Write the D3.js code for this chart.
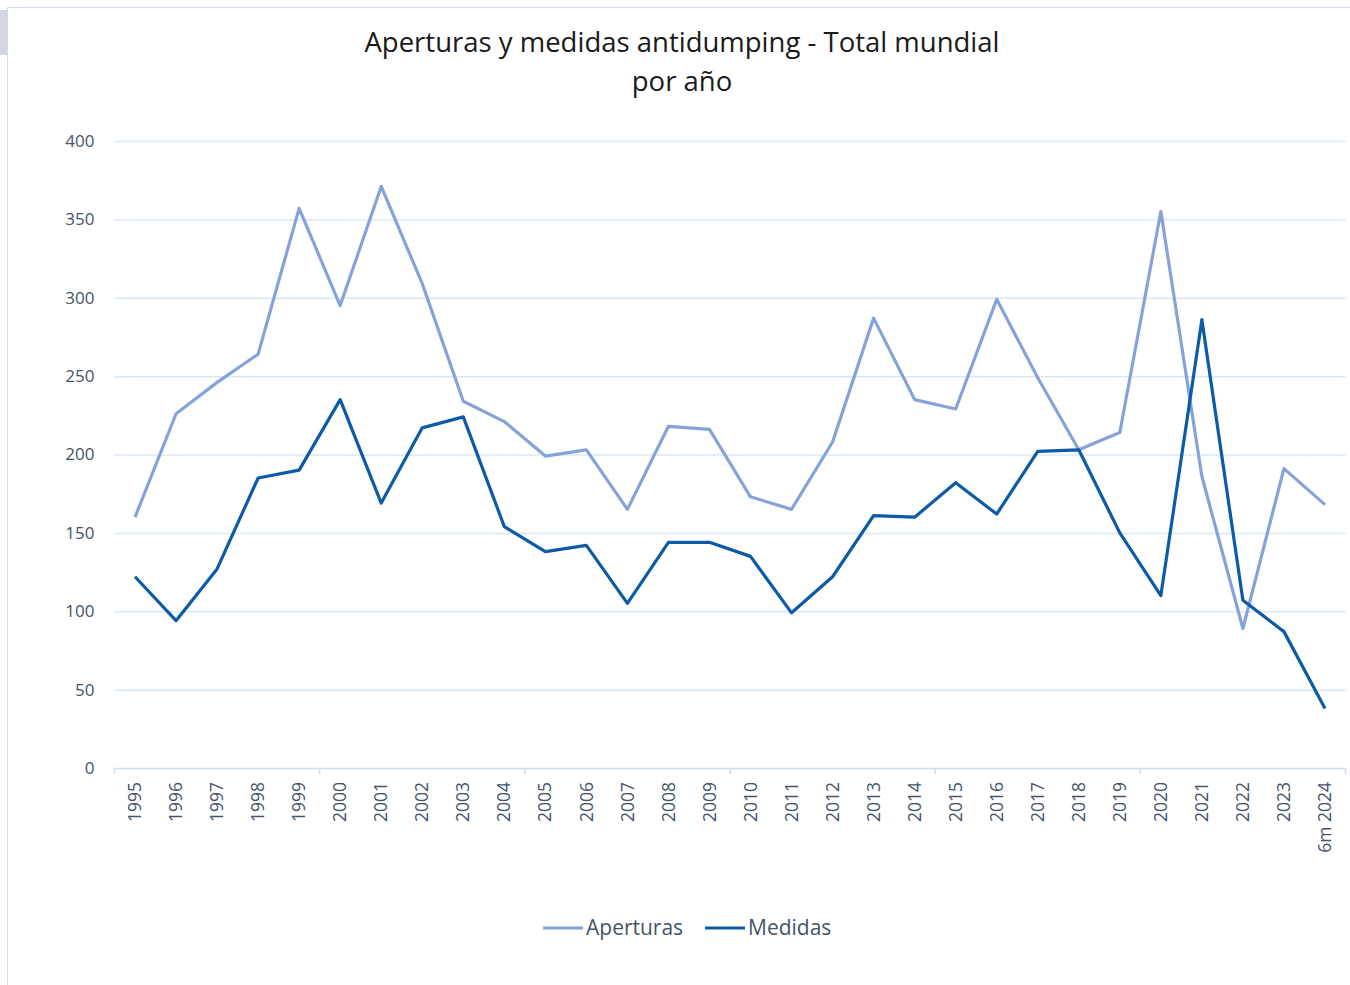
<!DOCTYPE html>
<html lang="es">
<head>
<meta charset="UTF-8">
<title>Aperturas y medidas antidumping</title>
<script src="https://d3js.org/d3.v7.min.js"></script>
<style>
    body { margin: 0; background: #fff; font-family: "Open Sans", "Noto Sans", sans-serif; }
    .grid line { stroke: #dce7f5; stroke-width: 1.5px; }
    .tick text { fill: #44546a; }
    .line { fill: none; stroke-width: 3.2px; stroke-linejoin: round; }
</style>
</head>
<body>
<div id="chart"></div>
<script>
// categories
const years = ["1995","1996","1997","1998","1999","2000","2001","2002","2003","2004",
               "2005","2006","2007","2008","2009","2010","2011","2012","2013","2014",
               "2015","2016","2017","2018","2019","2020","2021","2022","2023","6m 2024"];

// series
const aperturas = [160,226,246,264,357,295,371,309,234,221,
                   199,203,165,218,216,173,165,208,287,235,
                   229,299,249,203,214,355,186,89,191,168];
const medidas = [122,94,127,185,190,235,169,217,224,154,
                 138,142,105,144,144,135,99,122,161,160,
                 182,162,202,203,150,110,286,107,87,38];

const yTicks = [0,50,100,150,200,250,300,350,400];

const W = 1350, H = 985;
const margin = {left: 114.5, right: 4.5, top: 141, bottom: 217};

const svg = d3.select("#chart").append("svg")
    .attr("width", W).attr("height", H);

// chart frame
svg.append("rect").attr("x", 0).attr("y", 10).attr("width", 7).attr("height", 45).attr("fill", "#d3d7dd");
svg.append("rect").attr("x", 7.5).attr("y", 7.5).attr("width", W).attr("height", H)
    .attr("fill", "#fff").attr("stroke", "#cfdcf0");

const x = d3.scaleBand().domain(years).range([margin.left, W - margin.right]);
const y = d3.scaleLinear().domain([0, 400]).range([H - margin.bottom, margin.top]);

// gridlines + y labels
const yAxis = svg.append("g").attr("class", "grid")
    .attr("transform", `translate(${margin.left},0)`)
    .call(d3.axisLeft(y).tickValues(yTicks).tickSize(-(W - margin.left - margin.right)).tickPadding(20));
yAxis.select(".domain").remove();
yAxis.selectAll(".tick line").filter(d => d === 0).remove();
yAxis.selectAll("text").attr("font-size", 17).attr("font-family", "Open Sans, sans-serif");

// x axis
const xAxis = svg.append("g")
    .attr("transform", `translate(0,${y(0)})`)
    .call(d3.axisBottom(x).tickSize(0).tickPadding(0));
xAxis.select(".domain").attr("stroke", "#cfdcf0").attr("stroke-width", 1.5);
xAxis.selectAll(".tick text")
    .attr("font-size", 17.5)
    .attr("font-family", "Open Sans, sans-serif")
    .attr("text-anchor", "end")
    .attr("transform", "rotate(-90)")
    .attr("x", -14)
    .attr("y", 0)
    .attr("dy", "0.35em");

// tick marks every five categories
const marks = years.filter((d, i) => i % 5 === 0).map(d => x(d)).concat([W - margin.right]);
svg.append("g").selectAll("line").data(marks).join("line")
    .attr("x1", d => d).attr("x2", d => d)
    .attr("y1", y(0)).attr("y2", y(0) + 6)
    .attr("stroke", "#cfdcf0").attr("stroke-width", 1.5);

const line = d3.line()
    .x((d, i) => x(years[i]) + x.bandwidth() / 2)
    .y(d => y(d));

const cA = "#86a3d8", cM = "#0d5aa7";

svg.append("path").datum(aperturas).attr("class", "line").attr("stroke", cA).attr("d", line);
svg.append("path").datum(medidas).attr("class", "line").attr("stroke", cM).attr("d", line);

// title
const title = svg.append("text").attr("text-anchor", "middle").attr("fill", "#1a1a1a")
    .attr("font-family", "Open Sans, sans-serif").attr("font-size", 27.5);
title.append("tspan").attr("x", 682).attr("y", 52).text("Aperturas y medidas antidumping - Total mundial");
title.append("tspan").attr("x", 682).attr("y", 91).text("por año");

// legend
const legend = [{name: "Aperturas", color: cA, x: 543}, {name: "Medidas", color: cM, x: 705}];
const lg = svg.append("g").selectAll("g").data(legend).join("g")
    .attr("transform", d => `translate(${d.x},928)`);
lg.append("line").attr("x1", 0).attr("x2", 40).attr("stroke", d => d.color).attr("stroke-width", 3.2);
lg.append("text").attr("x", 43).attr("dy", "0.35em").attr("font-size", 21)
    .attr("font-family", "Open Sans, sans-serif").attr("fill", "#44546a").text(d => d.name);
</script>
</body>
</html>
